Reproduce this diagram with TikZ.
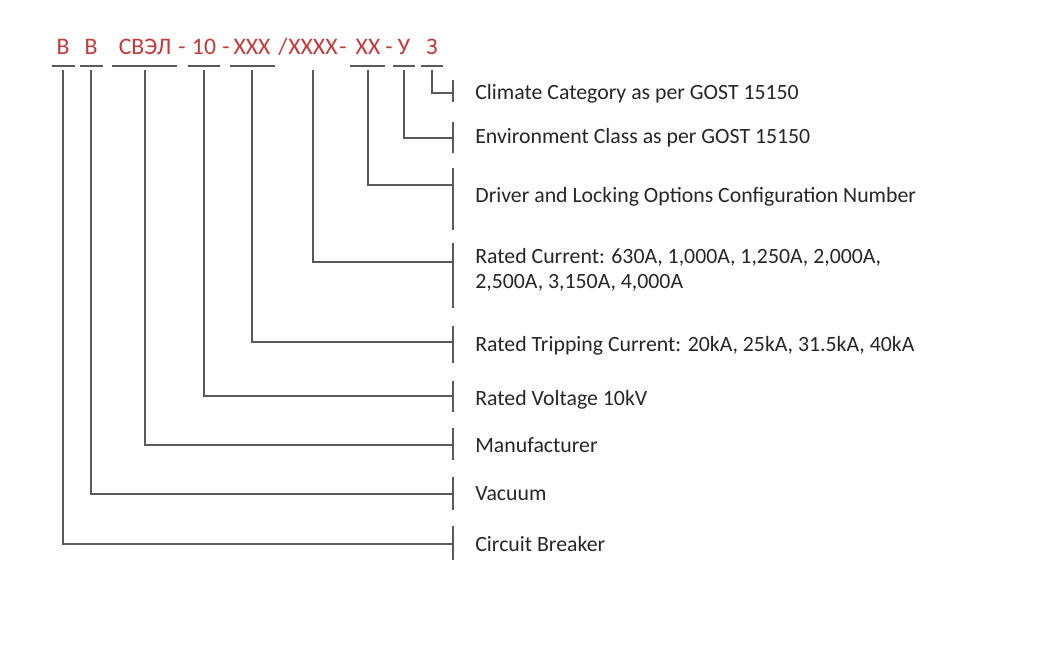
\documentclass[tikz,border=0pt]{standalone}
\usepackage{fontspec}
\setmainfont{Carlito}
\definecolor{codered}{RGB}{196,58,58}
\definecolor{linegray}{RGB}{90,90,90}
\begin{document}
\begin{tikzpicture}
        [x=0.02cm, y=-0.02cm,
        code/.style={text=codered, font=\fontsize{13.5}{15}\selectfont, inner sep=0pt, anchor=base},
        lbl/.style={anchor=west, inner sep=0pt, align=left, font=\fontsize{12.4}{14.2}\selectfont, text=black!85},
        wire/.style={linegray, line width=0.9pt},
        bar/.style={linegray, line width=1.1pt}]
    \useasboundingbox (0,0) rectangle (1059,651);
    % code letters
    \node[code] (c1) at (63,55) {В};
    \node[code] (c2) at (91,55) {В};
    \node[code] (c3) at (145,55) {СВЭЛ};
    \node[code] at (182,55) {-};
    \node[code] (c4) at (204,55) {10};
    \node[code] at (226,55) {-};
    \node[code] (c5) at (252,55) {XXX};
    \node[code] at (283,55) {/};
    \node[code] (c6) at (313,55) {XXXX};
    \node[code] at (343,55) {-};
    \node[code] (c7) at (368,55) {XX};
    \node[code] at (389,55) {-};
    \node[code] (c8) at (404,55) {У};
    \node[code] (c9) at (432,55) {З};
    % underlines
    \foreach \a/\b in {52/75, 80/103, 112/177, 188/220, 230/275, 350/385, 393/415, 421/443}
        \draw[wire] (\a,66) -- (\b,66);
    % labels
    \node[lbl] (l9) at (475,94) {Climate Category as per GOST 15150};
    \node[lbl] (l8) at (475,138) {Environment Class as per GOST 15150};
    \node[lbl] (l7) at (475,197) {Driver and Locking Options Configuration Number};
    \node[lbl] (l6) at (475,270) {Rated Current: 630A, 1,000A, 1,250A, 2,000A,\\2,500A, 3,150A, 4,000A};
    \node[lbl] (l5) at (475,346) {Rated Tripping Current: 20kA, 25kA, 31.5kA, 40kA};
    \node[lbl] (l4) at (475,400) {Rated Voltage 10kV};
    \node[lbl] (l3) at (475,445) {Manufacturer};
    \node[lbl] (l2) at (475,494) {Vacuum};
    \node[lbl] (l1) at (475,544) {Circuit Breaker};
    % bars
    \foreach \n/\t/\b in {b9/80/102, b8/122/153, b7/168/230, b6/243/308, b5/326/363, b4/381/412, b3/428/460, b2/477/510, b1/526/560}{
        \draw[bar] (453,\t) -- (453,\b);
        \coordinate (\n) at (453,{(\t+\b)/2});
    }
    % connectors
    \foreach \c/\x/\y in {c1/63/544, c2/91/494, c3/145/445, c4/204/396, c5/252/342, c6/313/262, c7/368/185, c8/404/138, c9/432/93}
        \draw[wire] (\x,70) -- (\x,\y) -- (453,\y);
\end{tikzpicture}
\end{document}
